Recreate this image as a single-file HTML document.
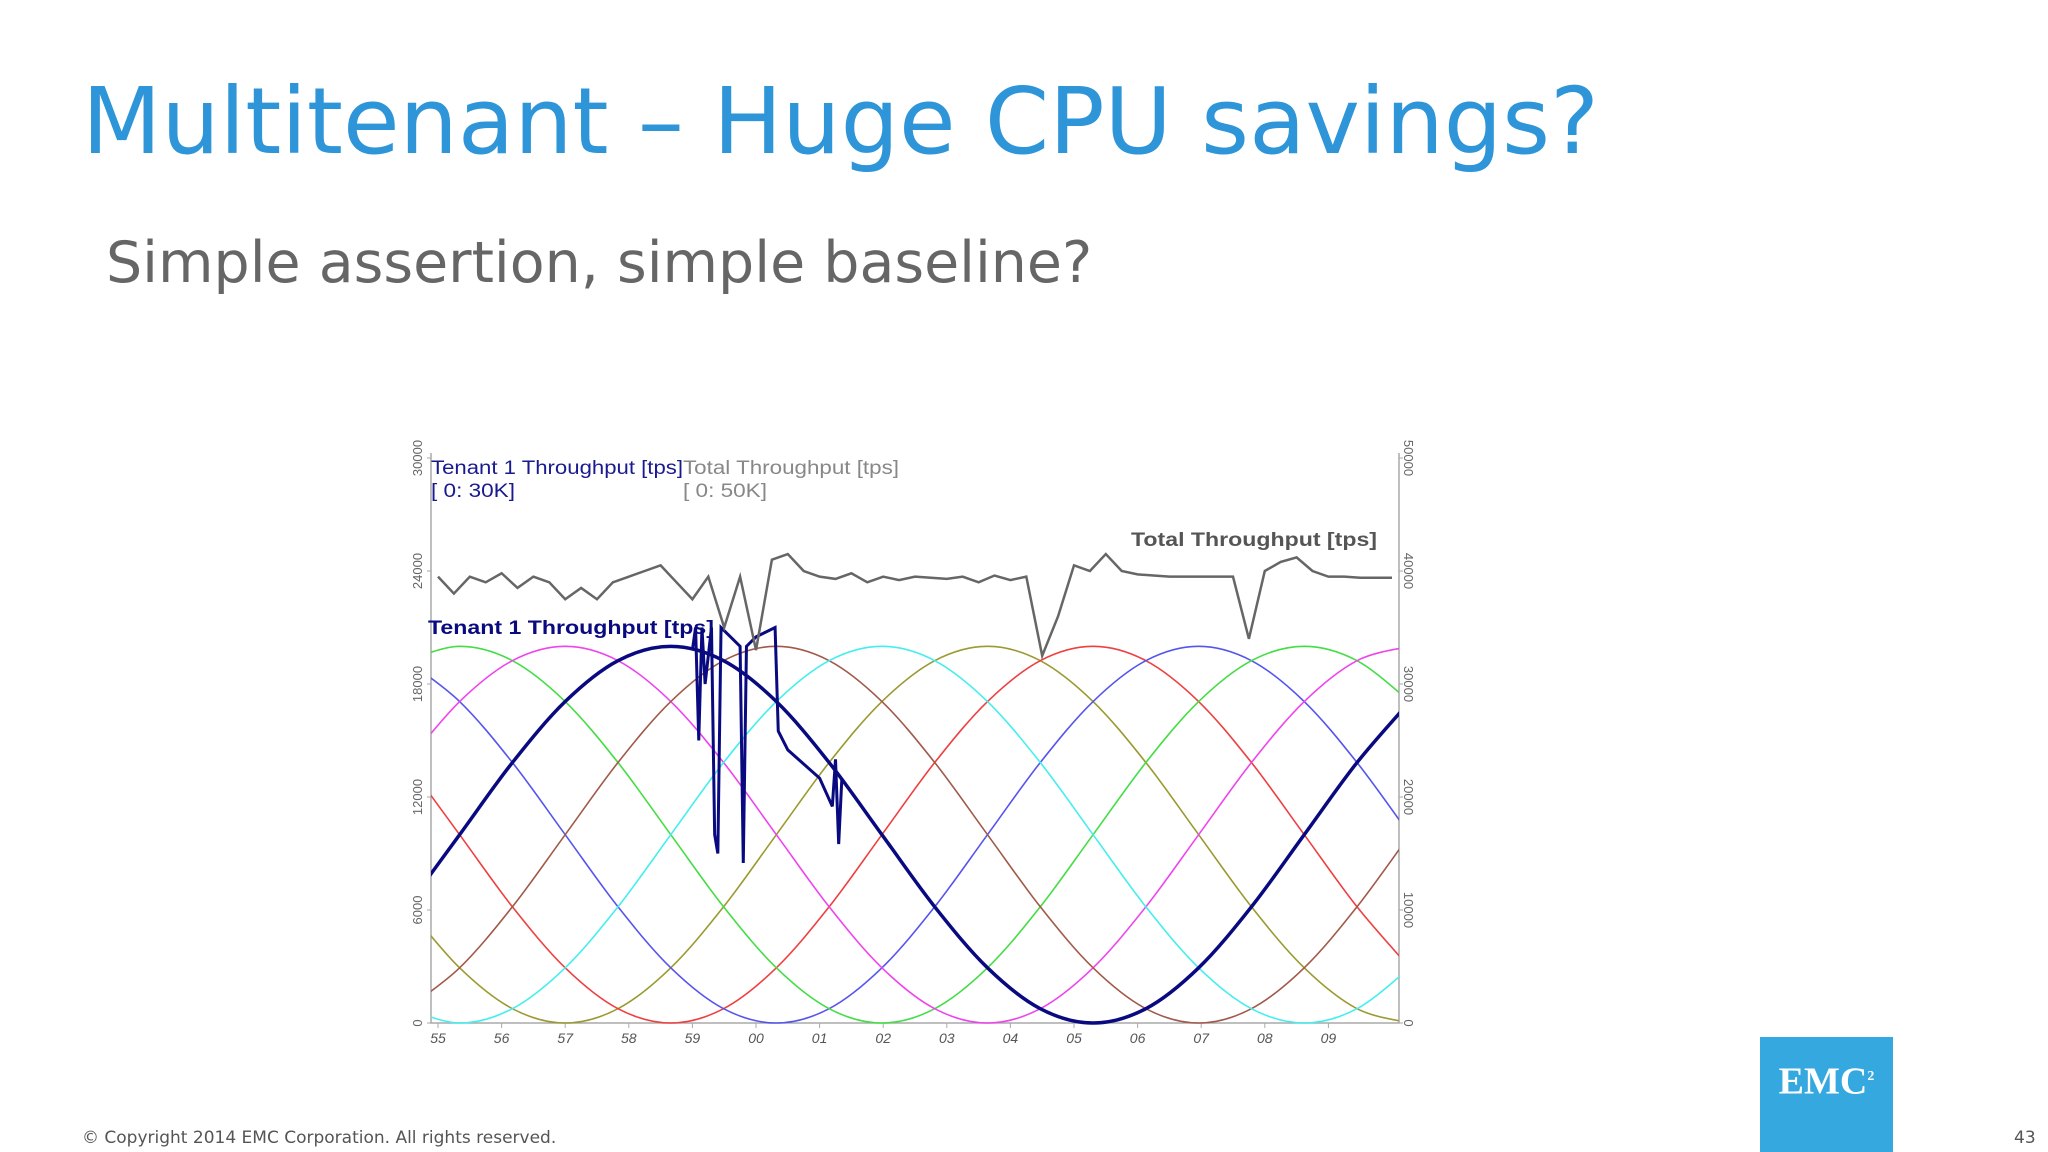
<!DOCTYPE html>
<html><head><meta charset="utf-8"><style>
body{margin:0;width:2048px;height:1152px;background:#fff;position:relative;overflow:hidden;font-family:"Liberation Sans","DejaVu Sans",sans-serif}
.t{position:absolute;white-space:nowrap}
</style></head><body>
<div class="t" style="left:82px;top:68px;font-size:92px;color:#2e95d8;font-family:'DejaVu Sans',sans-serif">Multitenant – Huge CPU savings?</div>
<div class="t" style="left:106px;top:230px;font-size:57px;color:#666;font-family:'DejaVu Sans',sans-serif">Simple assertion, simple baseline?</div>
<svg id="chart" width="2048" height="1152" style="position:absolute;left:0;top:0"></svg>
<div class="t" style="left:82px;top:1128px;font-size:17px;color:#555;font-family:'DejaVu Sans',sans-serif">© Copyright 2014 EMC Corporation. All rights reserved.</div>
<div class="t" style="left:2014px;top:1128px;font-size:17px;color:#555;font-family:'DejaVu Sans',sans-serif">43</div>
<div style="position:absolute;left:1760px;top:1037px;width:133px;height:115px;background:#35a8e0;color:#fff;font-family:'Liberation Serif',serif;font-weight:bold;font-size:38px;text-align:center;line-height:80px">EMC<sup style="font-size:14px">2</sup></div>
<script>
const times=[54.51,55.34,56.17,57.0,57.83,58.66,59.49,60.32,61.15,61.98,62.81,63.64,64.47,65.3,66.13,66.96,67.79,68.62,69.45,70.28];
const olive=[6170,2930,760,0,760,2930,6170,10000,13830,17070,19240,20000,19240,17070,13830,10000,6170,2930,760,0];
const red=[13830,10000,6170,2930,760,0,760,2930,6170,10000,13830,17070,19240,20000,19240,17070,13830,10000,6170,2930];
const blue=[19240,17070,13830,10000,6170,2930,760,0,760,2930,6170,10000,13830,17070,19240,20000,19240,17070,13830,10000];
const green=[19240,20000,19240,17070,13830,10000,6170,2930,760,0,760,2930,6170,10000,13830,17070,19240,20000,19240,17070];
const magenta=[13830,17070,19240,20000,19240,17070,13830,10000,6170,2930,760,0,760,2930,6170,10000,13830,17070,19240,20000];
const navy=[6170,10000,13830,17070,19240,20000,19240,17070,13830,10000,6170,2930,760,0,760,2930,6170,10000,13830,17070];
const brown=[760,2930,6170,10000,13830,17070,19240,20000,19240,17070,13830,10000,6170,2930,760,0,760,2930,6170,10000];
const cyan=[760,0,760,2930,6170,10000,13830,17070,19240,20000,19240,17070,13830,10000,6170,2930,760,0,760,2930];
const totalTimes=[];for(let i=0;i<=60;i++)totalTimes.push(55+i*0.25);
const total=[39500,38000,39500,39000,39800,38500,39500,39000,37500,38500,37500,39000,39500,40000,40500,39000,37500,39500,35000,39500,33000,41000,41500,40000,39500,39300,39800,39000,39500,39200,39500,39400,39300,39500,39000,39600,39200,39500,32500,36000,40500,40000,41500,40000,39700,39600,39500,39500,39500,39500,39500,34000,40000,40800,41200,40000,39500,39500,39400,39400,39400];
const spikeTimes=[59.0,59.05,59.1,59.15,59.2,59.3,59.35,59.4,59.45,59.6,59.75,59.8,59.85,60.0,60.3,60.35,60.5,61.0,61.2,61.25,61.3,61.35];
const spikeVals=[19800,21000,15000,21000,18000,21000,10000,9000,21000,20500,20000,8500,20000,20500,21000,15500,14500,13000,11500,14000,9500,13000];
const leftTicks=[0,6000,12000,18000,24000,30000];
const rightTicks=[0,10000,20000,30000,40000,50000];
const xLabels=["55","56","57","58","59","00","01","02","03","04","05","06","07","08","09"];
const NS="http://www.w3.org/2000/svg",svg=document.getElementById('chart');
const X0=431,X1=1399,Y0=1023,Y1=458;
const xs=t=>438+(t-55)*63.6, yl=v=>Y0-v/30000*(Y0-Y1), yr=v=>Y0-v/50000*(Y0-Y1);
function mk(tag,a){const e=document.createElementNS(NS,tag);for(const k in a)e.setAttribute(k,a[k]);svg.appendChild(e);return e;}
const defs=mk('defs',{});const cp=document.createElementNS(NS,'clipPath');cp.setAttribute('id','pc');
const r=document.createElementNS(NS,'rect');r.setAttribute('x',X0);r.setAttribute('y',Y1-10);r.setAttribute('width',X1-X0);r.setAttribute('height',Y0-Y1+12);cp.appendChild(r);defs.appendChild(cp);
let ax=mk('path',{d:`M${X0},${Y1-5}V${Y0}H${X1}V${Y1-5}`,stroke:'#aaa',fill:'none','stroke-width':1.5});

leftTicks.forEach(v=>{const y=yl(v);mk('line',{x1:X0-4,x2:X0,y1:y,y2:y,stroke:'#aaa'});
 const t=mk('text',{x:0,y:0,transform:`translate(422,${y}) rotate(-90)`,'font-size':13,fill:'#666','text-anchor':'middle'});t.textContent=v;
 });
rightTicks.forEach(v=>{const y=yr(v);mk('line',{x1:X1,x2:X1+4,y1:y,y2:y,stroke:'#aaa'});
 const t=mk('text',{x:0,y:0,transform:`translate(1404,${y}) rotate(90)`,'font-size':13,fill:'#666','text-anchor':'middle'});t.textContent=v;
 });
xLabels.forEach((l,i)=>{const x=xs(55+i);mk('line',{x1:x,x2:x,y1:Y0,y2:Y0+5,stroke:'#aaa'});
 const t=mk('text',{x:x,y:1043,'font-size':14,fill:'#555','text-anchor':'middle','font-style':'italic'});t.textContent=l;
 });
const g=mk('g',{'clip-path':'url(#pc)'});
function smooth(pts){let d=`M${pts[0][0]},${pts[0][1]}`;for(let i=0;i<pts.length-1;i++){const p0=pts[i-1]||pts[i],p1=pts[i],p2=pts[i+1],p3=pts[i+2]||p2;
 d+=`C${p1[0]+(p2[0]-p0[0])/6},${p1[1]+(p2[1]-p0[1])/6} ${p2[0]-(p3[0]-p1[0])/6},${p2[1]-(p3[1]-p1[1])/6} ${p2[0]},${p2[1]}`;}return d;}
const series=[[olive,'#9a9a30','olive'],[red,'#ee4040','red'],[blue,'#5555ee','blue'],[green,'#44dd44','green'],[magenta,'#ee44ee','magenta'],[brown,'#a05a4a','brown'],[cyan,'#44eeee','cyan']];
series.forEach(s=>{const p=mk('path',{d:smooth(times.map((t,i)=>[xs(t),yl(s[0][i])])),stroke:s[1],fill:'none','stroke-width':1.6});g.appendChild(p);
 });
const np=mk('path',{d:smooth(times.map((t,i)=>[xs(t),yl(navy[i])])),stroke:'#0a0a80',fill:'none','stroke-width':3.5});g.appendChild(np);

const sp=mk('polyline',{points:spikeTimes.map((t,i)=>xs(t)+','+yl(spikeVals[i])).join(' '),stroke:'#0a0a80',fill:'none','stroke-width':3});g.appendChild(sp);

const tp=mk('polyline',{points:totalTimes.map((t,i)=>xs(t)+','+yr(total[i])).join(' '),stroke:'#666',fill:'none','stroke-width':2.5});g.appendChild(tp);

function lbl(x,y,s,fill,w,name,len){const a={x:x,y:y,'font-size':19,fill:fill,'font-weight':w};if(len){a.textLength=len;a.lengthAdjust='spacingAndGlyphs';}
 const t=mk('text',a);t.textContent=s;
 }
lbl(431,474,'Tenant 1 Throughput [tps]','#1a1a90','normal','legend-tenant1',252);
lbl(431,497,'[ 0: 30K]','#1a1a90','normal','legend-tenant1-range',84);
lbl(683,474,'Total Throughput [tps]','#888','normal','legend-total',216);
lbl(683,497,'[ 0: 50K]','#888','normal','legend-total-range',84);
lbl(1131,546,'Total Throughput [tps]','#555','bold','total-series-label',246);
lbl(428,634,'Tenant 1 Throughput [tps]','#0a0a80','bold','tenant1-series-label',286);
</script>
</body></html>
